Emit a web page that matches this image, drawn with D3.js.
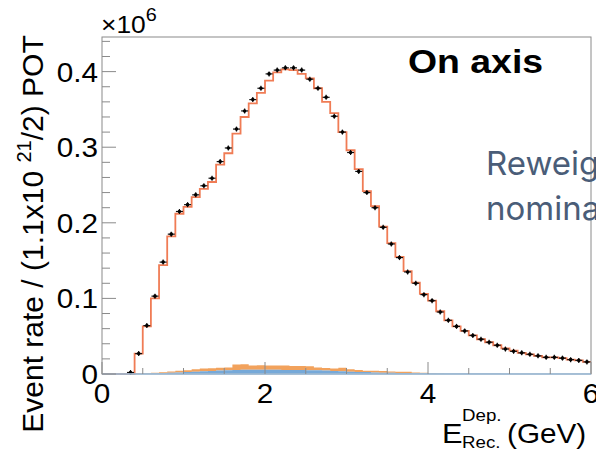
<!DOCTYPE html>
<html>
<head>
<meta charset="utf-8">
<script src="https://cdnjs.cloudflare.com/ajax/libs/d3/7.8.5/d3.min.js"></script>
<style>
  body { margin: 0; background: #fff; overflow: hidden; }
  svg { display: block; }
</style>
</head>
<body>
<div id="chart"></div>
<script>
// bin edges are 0..6 GeV in 0.1 steps, values in units of 1e6 events
var binLo = d3.range(60).map(function(i) { return i / 10; });

// data points (black crosses)
var dataRate = [0, 0, 0, 0.002, 0.027, 0.064, 0.103, 0.148, 0.185, 0.215,
  0.224, 0.237, 0.249, 0.259, 0.281, 0.299, 0.324, 0.348, 0.363, 0.378,
  0.397, 0.402, 0.405, 0.405, 0.402, 0.390, 0.378, 0.366, 0.341, 0.320,
  0.293, 0.268, 0.240, 0.220, 0.194, 0.172, 0.154, 0.135, 0.120, 0.105,
  0.097, 0.082, 0.071, 0.063, 0.057, 0.051, 0.046, 0.042, 0.038, 0.033,
  0.030, 0.028, 0.026, 0.024, 0.022, 0.022, 0.021, 0.019, 0.018, 0.016];

// reweighted prediction (orange step line)
var predRate = [0, 0, 0, 0, 0.027, 0.063, 0.100, 0.144, 0.182, 0.212,
  0.221, 0.234, 0.245, 0.254, 0.277, 0.292, 0.318, 0.340, 0.358, 0.372,
  0.388, 0.399, 0.403, 0.402, 0.397, 0.391, 0.378, 0.360, 0.345, 0.320,
  0.296, 0.271, 0.242, 0.222, 0.195, 0.173, 0.155, 0.136, 0.121, 0.106,
  0.097, 0.083, 0.071, 0.063, 0.057, 0.051, 0.046, 0.042, 0.038, 0.034,
  0.031, 0.028, 0.026, 0.024, 0.022, 0.022, 0.021, 0.019, 0.018, 0.016];

// background components (stacked fills at the bottom)
var blueBkg = [0, 0, 0, 0, 0, 0.0003, 0.0005, 0.001, 0.0015, 0.002,
  0.0025, 0.003, 0.0035, 0.004, 0.0045, 0.005, 0.0052, 0.0055, 0.0055, 0.0055,
  0.0055, 0.0055, 0.0054, 0.0053, 0.0052, 0.005, 0.005, 0.0045, 0.004, 0.0035,
  0.003, 0.0028, 0.0025, 0.002, 0.0018, 0.0015, 0.0013, 0.0012, 0.001, 0.0009,
  0.0008, 0.0008, 0.0007, 0.0007, 0.0006, 0.0006, 0.0005, 0.0005, 0.0005, 0.0004,
  0.0004, 0.0004, 0.0004, 0.0003, 0.0003, 0.0003, 0.0003, 0.0003, 0.0003, 0.0003];
var orangeBkg = [0, 0, 0, 0, 0.0005, 0.0008, 0.0012, 0.0013, 0.0018, 0.0022,
  0.0024, 0.0032, 0.0037, 0.0037, 0.0037, 0.0037, 0.0075, 0.0075, 0.0057, 0.0062,
  0.0057, 0.0058, 0.0057, 0.0054, 0.0055, 0.0052, 0.0037, 0.0035, 0.0034, 0.0047,
  0.0032, 0.0026, 0.0019, 0.0022, 0.0021, 0.0017, 0.0018, 0.0017, 0.0009, 0.0009,
  0.0004, 0.0002, 0.0001, 0, 0, 0, 0, 0, 0, 0,
  0, 0, 0, 0, 0, 0, 0, 0, 0, 0];

var yTicks = [0, 0.1, 0.2, 0.3, 0.4];
var xTicks = [0, 2, 4, 6];

// define some dimensions
var width = 596, height = 450;
var frame = {left: 102, right: 591, top: 37, bottom: 374};
var binW = 0.1;
var sx = 1.1; // the original text is a bit wider than Helvetica

var svg = d3.select("#chart").append("svg")
  .attr("width", width)
  .attr("height", height);

var x = d3.scaleLinear().domain([0, 6]).range([frame.left, frame.right]);
var y = d3.scaleLinear().domain([0, 0.4458]).range([frame.bottom, frame.top]);

// helper to place horizontal text with a slight horizontal stretch
function addText(str, px, py, size, anchor) {
  return svg.append("text")
    .attr("transform", `translate(${px}, ${py}) scale(${sx}, 1)`)
    .attr("text-anchor", anchor || "start")
    .attr("font-family", "'Liberation Sans', Arial, Helvetica, sans-serif")
    .attr("font-size", size + "px")
    .attr("fill", "#000")
    .text(str);
}

// stacked background fills
var edges = binLo.concat([6]);
function stepVals(arr) { return arr.concat([arr[arr.length - 1]]); }
var blueTop = stepVals(blueBkg);
var orangeTop = stepVals(blueBkg.map(function(v, i) { return v + orangeBkg[i]; }));

var area = d3.area().curve(d3.curveStepAfter)
  .x(function(d) { return x(d.e); })
  .y0(function(d) { return y(d.lo); })
  .y1(function(d) { return y(d.hi); });

svg.append("path")
  .attr("d", area(edges.map(function(e, i) { return {e: e, lo: blueTop[i], hi: orangeTop[i]}; })))
  .attr("fill", "#f2a25c");
svg.append("path")
  .attr("d", area(edges.map(function(e, i) { return {e: e, lo: 0, hi: blueTop[i]}; })))
  .attr("fill", "#76a9d9");

// prediction step line
var predTop = stepVals(predRate);
var stepLine = d3.line().curve(d3.curveStepAfter)
  .x(function(d) { return x(d.e); })
  .y(function(d) { return y(d.v); });
svg.append("path")
  .attr("d", stepLine(edges.map(function(e, i) { return {e: e, v: predTop[i]}; })))
  .attr("fill", "none")
  .attr("stroke", "#f07c55")
  .attr("stroke-width", 1.8);

// data points with error bars
var pts = svg.append("g").selectAll("g")
  .data(binLo.map(function(lo, i) { return {c: lo + binW / 2, v: dataRate[i]}; })
    .filter(function(d) { return d.v > 0; }))
  .join("g")
  .attr("transform", function(d) { return `translate(${x(d.c)}, ${y(d.v)})`; });
pts.append("line").attr("x1", -3.5).attr("x2", 3.5)
  .attr("stroke", "#111").attr("stroke-width", 1.2);
pts.append("line").attr("y1", -2.5).attr("y2", 2.5)
  .attr("stroke", "#111").attr("stroke-width", 1.2);
pts.append("circle").attr("r", 1.8).attr("fill", "#000");

// frame and ticks
svg.append("rect")
  .attr("x", frame.left).attr("y", frame.top)
  .attr("width", frame.right - frame.left)
  .attr("height", frame.bottom - frame.top)
  .attr("fill", "none")
  .attr("stroke", "#8a8a8a")
  .attr("stroke-width", 1);

// blue zero line of the background histogram sits on the bottom axis
svg.append("line")
  .attr("x1", frame.left).attr("x2", frame.right)
  .attr("y1", frame.bottom).attr("y2", frame.bottom)
  .attr("stroke", "#9fbfdc").attr("stroke-width", 1.5);

var yMinor = d3.range(0, 0.445, 0.02);
svg.append("g").selectAll("line")
  .data(yMinor)
  .join("line")
  .attr("x1", frame.left)
  .attr("x2", function(d, i) { return frame.left + (i % 5 == 0 ? 14 : 8); })
  .attr("y1", function(d) { return y(d); })
  .attr("y2", function(d) { return y(d); })
  .attr("stroke", "#8a8a8a");

var xMinor = d3.range(0, 6.01, 0.5);
svg.append("g").selectAll("line")
  .data(xMinor)
  .join("line")
  .attr("x1", function(d) { return x(d); })
  .attr("x2", function(d) { return x(d); })
  .attr("y1", frame.bottom)
  .attr("y2", function(d) { return frame.bottom - (d % 2 == 0 ? 12 : 6); })
  .attr("stroke", "#8a8a8a");

// tick labels
yTicks.forEach(function(t) {
  addText(t == 0 ? "0" : d3.format(".1f")(t), frame.left - 4, y(t) + 10, 27, "end");
});
xTicks.forEach(function(t) {
  addText(String(t), x(t), 403, 27, "middle");
});

// exponent above the y axis
var expo = addText("\u00d710", frame.left - 1, 33, 24, "start");
expo.append("tspan").attr("font-size", "18px").attr("dy", -12).text("6");

// y axis title
var yt = svg.append("text")
  .attr("transform", "translate(43, 234) rotate(-90)")
  .attr("text-anchor", "middle")
  .attr("font-family", "'Liberation Sans', Arial, Helvetica, sans-serif")
  .attr("font-size", "30px")
  .attr("fill", "#000");
yt.append("tspan").text("Event rate / (1.1x10 ");
yt.append("tspan").attr("font-size", "20px").attr("dy", -12).text("21");
yt.append("tspan").attr("dy", 12).text("/2) POT");

// x axis title: E with Dep. superscript and Rec. subscript
addText("E", 442, 443, 28, "start");
addText("Dep.", 462, 421, 17, "start");
addText("Rec.", 462, 448, 17, "start");
addText("(GeV)", 507, 443, 27, "start");

// panel label
addText("On axis", 408, 73, 34, "start").attr("font-weight", "bold");

// overlapping slide text, clipped at the right edge
svg.append("text")
  .attr("x", 486).attr("y", 175)
  .attr("font-family", "Inter, 'Open Sans', sans-serif")
  .attr("font-size", "33px")
  .attr("fill", "#4a5d78")
  .text("Reweighted");
svg.append("text")
  .attr("x", 486).attr("y", 220)
  .attr("font-family", "Inter, 'Open Sans', sans-serif")
  .attr("font-size", "33px")
  .attr("fill", "#4a5d78")
  .text("nominal");
</script>
</body>
</html>
